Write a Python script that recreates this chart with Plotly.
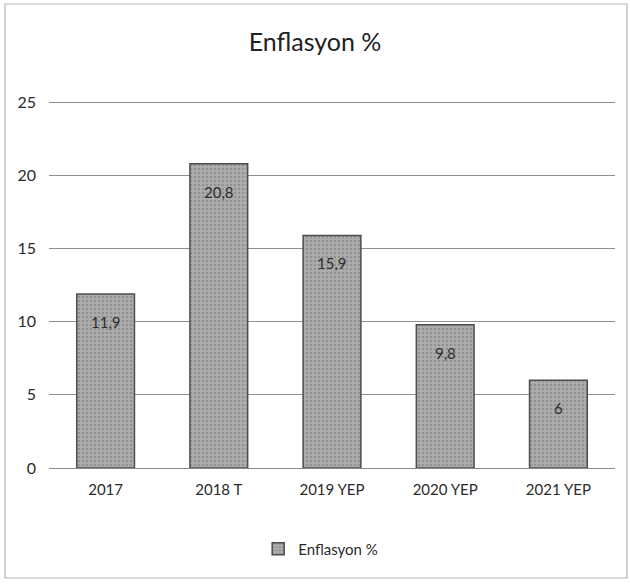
import plotly.graph_objects as go

# Inflation figures by year (T = realised, YEP = programme forecast)
categories = ["2017", "2018 T", "2019 YEP", "2020 YEP", "2021 YEP"]
inflation = [11.9, 20.8, 15.9, 9.8, 6]
y_ticks = [0, 5, 10, 15, 20, 25]
series_name = "Enflasyon %"

FONT = "Lato, Open Sans, sans-serif"
TEXT = "#2a2a2a"


def tr_number(v):
    s = f"{v:g}"
    return s.replace(".", ",")


fig = go.Figure()
fig.add_trace(go.Bar(
    x=categories,
    y=inflation,
    name=series_name,
    marker=dict(
        color="#a9a9a9",
        line=dict(color="#4d4d4d", width=1.5),
        pattern=dict(shape=".", fgcolor="#767676", bgcolor="#adadad", size=4, solidity=0.35),
    ),
    showlegend=True,
))

# value labels inside each bar, a little below its top (x given as category index)
for i, v in enumerate(inflation):
    fig.add_annotation(
        x=i, y=v, text=tr_number(v), showarrow=False,
        yanchor="middle", yshift=-28,
        font=dict(family=FONT, size=15, color="#2e2e2e"),
    )

# light frame around the whole chart area
fig.add_shape(
    type="rect", xref="paper", yref="paper",
    x0=-0.0777, x1=1.0212, y0=-0.2949, y1=1.244,
    line=dict(color="#b5b5b5", width=1.2), fillcolor="rgba(0,0,0,0)", layer="below",
)

fig.update_layout(
    width=630, height=587,
    margin=dict(l=49, r=15, t=95, b=119),
    paper_bgcolor="white", plot_bgcolor="white",
    title=dict(
        text=series_name, x=0.5, xanchor="center", y=1 - 42 / 587, yanchor="middle",
        font=dict(family=FONT, size=25, color="#222222"),
    ),
    font=dict(family=FONT, size=15, color=TEXT),
    bargap=0.49,
    legend=dict(
        orientation="h", x=0.48, xanchor="center", y=-0.2172, yanchor="middle",
        font=dict(family=FONT, size=15, color=TEXT),
        itemwidth=30,
    ),
    xaxis=dict(
        type="category", range=[-0.5, len(categories) - 0.5],
        showline=True, linecolor="#8a8a8a", linewidth=1.2,
        ticks="", tickfont=dict(family=FONT, size=15, color=TEXT),
        showgrid=False, ticklabelstandoff=8,
    ),
    yaxis=dict(
        range=[0, 25.5], tickvals=y_ticks, ticktext=[str(t) for t in y_ticks],
        showgrid=True, gridcolor="#8f8f8f", gridwidth=1.2,
        zeroline=False, showline=False, ticks="",
        tickfont=dict(family=FONT, size=16, color=TEXT),
        ticklabelstandoff=12,
    ),
)

fig.write_html("out.html")
